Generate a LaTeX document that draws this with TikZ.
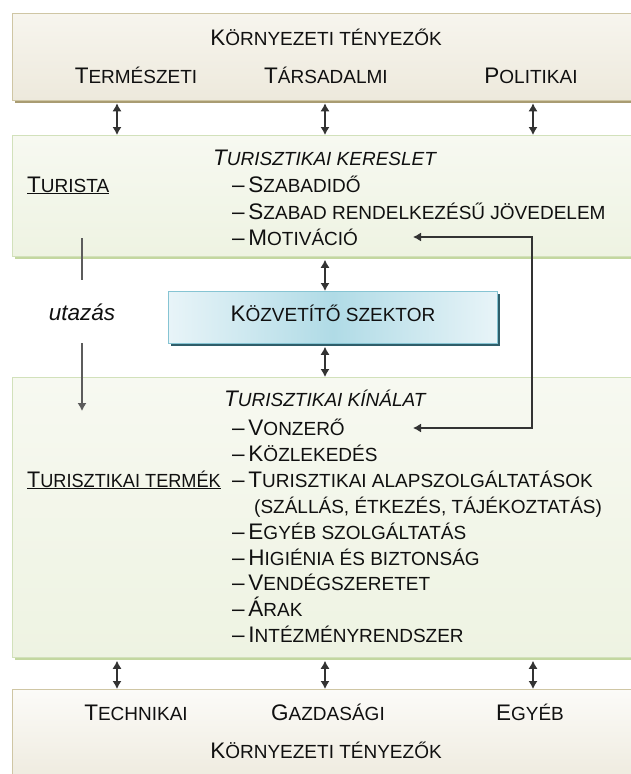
\documentclass[tikz,border=0pt]{standalone}
\usepackage{fontspec}
\usepackage{graphicx}
\setmainfont{Liberation Sans}
\usetikzlibrary{shadows,arrows.meta}
\definecolor{txtc}{HTML}{101010}
\definecolor{envborder}{HTML}{CFC6A4}
\definecolor{envtop}{HTML}{F7F5EE}
\definecolor{envbot}{HTML}{EDE9DC}
\definecolor{envshadow}{HTML}{A99C72}
\definecolor{grnborder}{HTML}{D2E1BB}
\definecolor{grntop}{HTML}{F7F9F1}
\definecolor{grnbot}{HTML}{EEF3E2}
\definecolor{grnshadow}{HTML}{C3D7A0}
\definecolor{bluborder}{HTML}{86C4D3}
\definecolor{bluedge}{HTML}{E8F4F8}
\definecolor{blumid}{HTML}{B0DBE6}
\definecolor{blushadow}{HTML}{2F5E6A}
\definecolor{arrc}{HTML}{333333}
\newcommand\sml[1]{{\fontsize{19}{23}\selectfont #1}}
\begin{document}
\begin{tikzpicture}[x=1pt,y=-1pt,
  every node/.style={inner sep=0pt, text=txtc},
  tw/.style={font=\fontsize{22.5}{26}\selectfont, anchor=base west},
  tcn/.style={font=\fontsize{22.5}{26}\selectfont, anchor=base},
  twi/.style={font=\fontsize{22.5}{26}\selectfont\itshape, anchor=base west},
  envbox/.style={draw=envborder, line width=0.8pt, top color=envtop, bottom color=envbot,
    anchor=north west, minimum width=640pt,
    general shadow={fill=envshadow, shadow xshift=3pt, shadow yshift=-2.5pt}},
  envboxb/.style={draw=envborder, line width=0.8pt, top color=white!60!envtop, bottom color=envbot,
    anchor=north west, minimum width=640pt},
  grnbox/.style={draw=grnborder, line width=0.8pt, top color=grntop, bottom color=grnbot,
    anchor=north west, minimum width=640pt,
    general shadow={fill=grnshadow, shadow xshift=3pt, shadow yshift=-3pt}},
  blubox/.style={draw=bluborder, line width=0.8pt, left color=bluedge, right color=bluedge, middle color=blumid,
    anchor=north west, minimum width=329pt, minimum height=52pt,
    general shadow={fill=blushadow, shadow xshift=3pt, shadow yshift=-3pt}},
  dbl/.style={{Latex[length=8pt,width=9pt]}-{Latex[length=8pt,width=9pt]}, line width=1.2pt, draw=arrc},
  fb/.style={{Latex[length=8pt,width=9pt]}-{Latex[length=8pt,width=9pt]}, line width=1.3pt, draw=arrc},
  ln/.style={line width=1.2pt, draw=arrc!80},
  lna/.style={-{Latex[length=8pt,width=9pt]}, line width=1.2pt, draw=arrc!80}]
\useasboundingbox (0,0) rectangle (631,774);
% boxes
\node[envbox, minimum height=87pt] (envTop) at (12,13) {};
\node[grnbox, minimum height=121pt] (dem) at (12,135) {};
\node[blubox] (kozv) at (168,291) {};
\node[grnbox, minimum height=280pt] (sup) at (12,377) {};
\node[envboxb, minimum height=100pt] (envBot) at (12,689) {};
% column coordinates
\coordinate (a1) at (117,0);
\coordinate (a2) at (325,0);
\coordinate (a3) at (533,0);
% top texts
\node[tcn] (envT) at (326,45) {K\sml{ÖRNYEZETI TÉNYEZŐK}};
\node[tcn] (ter) at (136,83) {T\sml{ERMÉSZETI}};
\node[tcn] (tar) at (326,83) {T\sml{ÁRSADALMI}};
\node[tcn] (pol) at (531,83) {P\sml{OLITIKAI}};
% demand
\node[twi] (ker) at (213,165) {T\sml{URISZTIKAI KERESLET}};
\node[tw] (tur) at (27,192) {\underline{T\sml{URISTA}}};
\node[tw] (d1) at (232,192) {–\,S\sml{ZABADIDŐ}};
\node[tw] (d2) at (232,219) {–\,S\sml{ZABAD RENDELKEZÉSŰ JÖVEDELEM}};
\node[tw] (d3) at (232,245) {–\,M\sml{OTIVÁCIÓ}};
% intermediary
\node[tcn] (kozvT) at (kozv.center |- 0,321) {K\sml{ÖZVETÍTŐ SZEKTOR}};
\node[font=\fontsize{22.5}{26}\selectfont\itshape, anchor=base] (ut) at (82,320) {utazás};
% supply
\node[twi] (kin) at (224,406) {T\sml{URISZTIKAI KÍNÁLAT}};
\node[tw] (s1) at (232,435) {–\,V\sml{ONZERŐ}};
\node[tw] (s2) at (232,461) {–\,K\sml{ÖZLEKEDÉS}};
\node[tw] (s3) at (232,487) {–\,T\sml{URISZTIKAI ALAPSZOLGÁLTATÁSOK}};
\node[tw] (s3b) at (254,513) {\sml{(SZÁLLÁS, ÉTKEZÉS, TÁJÉKOZTATÁS)}};
\node[tw] (s4) at (232,539) {–\,E\sml{GYÉB SZOLGÁLTATÁS}};
\node[tw] (s5) at (232,565) {–\,H\sml{IGIÉNIA ÉS BIZTONSÁG}};
\node[tw] (s6) at (232,590) {–\,V\sml{ENDÉGSZERETET}};
\node[tw] (s7) at (232,616) {–\,Á\sml{RAK}};
\node[tw] (s8) at (232,642) {–\,I\sml{NTÉZMÉNYRENDSZER}};
\node[tw] (ttermek) at (27,487) {\underline{\scalebox{0.955}[1]{T\sml{URISZTIKAI TERMÉK}}}};
% bottom
\node[tcn] (tech) at (136,720) {T\sml{ECHNIKAI}};
\node[tcn] (gazd) at (328,720) {G\sml{AZDASÁGI}};
\node[tcn] (egy) at (530,720) {E\sml{GYÉB}};
\node[tcn] (envB) at (326,758) {K\sml{ÖRNYEZETI TÉNYEZŐK}};
% vertical double arrows
\draw[dbl] ([yshift=-2.5pt]envTop.south -| a1) -- (dem.north -| a1);
\draw[dbl] ([yshift=-2.5pt]envTop.south -| a2) -- (dem.north -| a2);
\draw[dbl] ([yshift=-2.5pt]envTop.south -| a3) -- (dem.north -| a3);
\draw[dbl] ([yshift=-3pt]dem.south -| a2) -- (kozv.north -| a2);
\draw[dbl] ([yshift=-3pt]kozv.south -| a2) -- (sup.north -| a2);
\draw[dbl] ([yshift=-3pt]sup.south -| a1) -- (envBot.north -| a1);
\draw[dbl] ([yshift=-3pt]sup.south -| a2) -- (envBot.north -| a2);
\draw[dbl] ([yshift=-3pt]sup.south -| a3) -- (envBot.north -| a3);
% feedback loop
\coordinate (mEnd) at (413,237);
\coordinate (vEnd) at (413,428);
\coordinate (fbTop) at (532,237);
\coordinate (fbBot) at (532,428);
\draw[fb] (mEnd) -- (fbTop) -- (fbBot) -- (vEnd);
% travel
\coordinate (u1) at (82,238);
\coordinate (u2) at (82,280);
\coordinate (u3) at (82,343);
\coordinate (u4) at (82,411);
\draw[ln] (u1) -- (u2);
\draw[lna] (u3) -- (u4);
\end{tikzpicture}
\end{document}
